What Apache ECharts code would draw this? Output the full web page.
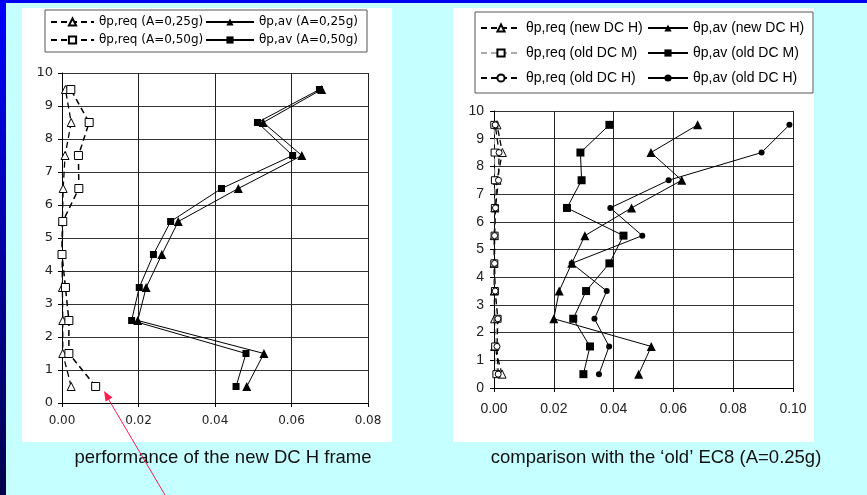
<!DOCTYPE html>
<html><head><meta charset="utf-8">
<script src="https://cdn.jsdelivr.net/npm/echarts@6/dist/echarts.min.js"></script>
<style>html,body{margin:0;padding:0;background:#C6FFFF;}#c{width:867px;height:495px;}</style>
</head><body><div id="c"></div>
<script>
// story levels (y)
const levels = [0.5,1.5,2.5,3.5,4.5,5.5,6.5,7.5,8.5,9.5];
// left chart: performance of the new DC H frame
const reqA25 = [0.0024,0.0002,0.0002,0.0001,0.0000,0.0001,0.0003,0.0008,0.0024,0.0009];
const reqA50 = [0.0088,0.0018,0.0018,0.0009,0.0000,0.0002,0.0044,0.0043,0.0071,0.0023];
const avA25  = [0.0483,0.0528,0.0198,0.0220,0.0261,0.0304,0.0461,0.0627,0.0526,0.0679];
const avA50  = [0.0455,0.0481,0.0182,0.0202,0.0239,0.0284,0.0417,0.0603,0.0511,0.0673];
// right chart: comparison with the old EC8
const reqNewH = [0.0027,0.0002,0.0002,0.0001,0.0000,0.0001,0.0003,0.0010,0.0028,0.0010];
const reqOldM = [0.0008,0.0004,0.0012,0.0003,0.0001,0.0002,0.0003,0.0003,0.0002,0.0001];
const reqOldH = [0.0014,0.0010,0.0013,0.0004,0.0002,0.0002,0.0005,0.0015,0.0017,0.0004];
const avNewH  = [0.0484,0.0526,0.0200,0.0218,0.0260,0.0304,0.0460,0.0628,0.0525,0.0681];
const avOldM  = [0.0299,0.0321,0.0265,0.0308,0.0386,0.0433,0.0244,0.0293,0.0289,0.0386];
const avOldH  = [0.0351,0.0385,0.0336,0.0377,0.0260,0.0496,0.0389,0.0584,0.0895,0.0988];
// axis ticks
const leftXTicks = {min:0, max:0.08, interval:0.02};
const rightXTicks = {min:0, max:0.10, interval:0.02};
const yTicks = {min:0, max:10, interval:1};

const pts = arr => arr.map((v,i)=>[v, levels[i]]);
const FONT = "'Liberation Sans', Arial, sans-serif";
const DV = "'DejaVu Sans', sans-serif";

function ser(name, data, idx, symbol, size, open, dashed, lineColor, lw){
  return {
    name, type:'line', xAxisIndex:idx, yAxisIndex:idx, data:pts(data),
    symbol, symbolSize:size, showAllSymbol:true, animation:false,
    itemStyle: open ? {color:'#fff', borderColor:'#000', borderWidth:1} : {color:'#000', borderColor:'#000', borderWidth:0},
    lineStyle:{color:lineColor||'#000', width:lw||1, type: dashed ? [6,4] : 'solid'},
    emphasis:{disabled:true}, z: open?3:4
  };
}

function xAxis(idx, t, fs, margin, ff){
  return {type:'value', gridIndex:idx, min:t.min, max:t.max, interval:t.interval,
    axisLine:{lineStyle:{color:'#000', width:1}},
    axisTick:{show:true, length:4, lineStyle:{color:'#000'}},
    axisLabel:{formatter:v=>v.toFixed(2), color:'#222', fontSize:fs, fontFamily:ff, margin:margin},
    splitLine:{show:true, lineStyle:{color:'#222', width:1}}};
}
function yAxis(idx, fs, ff, margin){
  return {type:'value', gridIndex:idx, min:yTicks.min, max:yTicks.max, interval:yTicks.interval,
    axisLine:{show:true, lineStyle:{color:'#000', width:1}},
    axisTick:{show:true, length:4, lineStyle:{color:'#000'}},
    axisLabel:{color:'#222', fontSize:fs, fontFamily:ff, margin:margin},
    splitLine:{show:true, lineStyle:{color:'#333', width:1}}};
}

const chart = echarts.init(document.getElementById('c'), null, {renderer:'canvas'});
chart.setOption({
  backgroundColor:'#C6FFFF',
  animation:false,
  grid:[
    {left:62, top:73, width:306, height:330},
    {left:494, top:111, width:299, height:277}
  ],
  xAxis:[xAxis(0, leftXTicks, 12, 12, DV), xAxis(1, rightXTicks, 14, 14, FONT)],
  yAxis:[yAxis(0, 13, DV, 9), yAxis(1, 14, FONT, 10)],
  legend:[
    {data:['θp,req (A=0,25g)','θp,req (A=0,50g)'], orient:'vertical', left:50, top:16, itemGap:6, padding:0,
     itemWidth:43, itemHeight:9, textStyle:{fontSize:12, fontFamily:DV, color:'#000'}, selectedMode:false},
    {data:['θp,av (A=0,25g)','θp,av (A=0,50g)'], orient:'vertical', left:205, top:16, itemGap:6, padding:0,
     itemWidth:48, itemHeight:9, textStyle:{fontSize:12, fontFamily:DV, color:'#000'}, selectedMode:false},
    {data:['θp,req (new DC H)','θp,req (old DC M)','θp,req (old DC H)'], orient:'vertical', left:480, top:21, itemGap:11, padding:0,
     itemWidth:40, itemHeight:9, textStyle:{fontSize:14, fontFamily:FONT, color:'#000'}, selectedMode:false},
    {data:['θp,av (new DC H)','θp,av (old DC M)','θp,av (old DC H)'], orient:'vertical', left:647, top:21, itemGap:11, padding:0,
     itemWidth:40, itemHeight:9, textStyle:{fontSize:14, fontFamily:FONT, color:'#000'}, selectedMode:false}
  ],
  graphic:[
    {type:'rect', z:-10, shape:{x:0,y:0,width:867,height:3}, style:{fill:'#0000F0'}},
    {type:'rect', z:-10, shape:{x:0,y:0,width:6,height:495}, style:{fill:new echarts.graphic.LinearGradient(0,0,0,1,[{offset:0,color:'#0000FF'},{offset:1,color:'#00004A'}])}},
    {type:'rect', z:-10, shape:{x:22,y:8,width:370,height:434}, style:{fill:'#fff'}},
    {type:'rect', z:-10, shape:{x:453,y:8,width:361,height:434}, style:{fill:'#fff'}},
    {type:'rect', z:-5, shape:{x:45,y:10,width:322,height:42}, style:{fill:'none', stroke:'#555', lineWidth:1}},
    {type:'rect', z:-5, shape:{x:475,y:12,width:338,height:81}, style:{fill:'none', stroke:'#555', lineWidth:1}},
    {type:'text', style:{text:'performance of the new DC H frame', x:223, y:458, align:'center', verticalAlign:'middle', fill:'#111', font:"18.5px 'Liberation Sans', Arial, sans-serif"}},
    {type:'text', style:{text:'comparison with the ‘old’ EC8 (A=0.25g)', x:656, y:458, align:'center', verticalAlign:'middle', fill:'#111', font:"18.5px 'Liberation Sans', Arial, sans-serif"}},
    {type:'line', z:50, shape:{x1:165,y1:495,x2:106,y2:395}, style:{stroke:'#FF1A50', lineWidth:1}},
    {type:'polygon', z:50, shape:{points:[[104,391],[112.5,397.6],[105.6,401.6]]}, style:{fill:'#FF1A50'}}
  ],
  series:[
    ser('θp,req (A=0,25g)', reqA25, 0, 'triangle', 8, true, true, '#000', 1.3),
    ser('θp,av (A=0,25g)', avA25, 0, 'triangle', 9, false, false, '#000', 1),
    ser('θp,req (A=0,50g)', reqA50, 0, 'rect', 8, true, true, '#000', 1.5),
    ser('θp,av (A=0,50g)', avA50, 0, 'rect', 7, false, false, '#000', 1),
    ser('θp,req (new DC H)', reqNewH, 1, 'triangle', 8, true, true, '#000', 1.3),
    ser('θp,av (new DC H)', avNewH, 1, 'triangle', 9, false, false, '#000', 1),
    ser('θp,req (old DC M)', reqOldM, 1, 'rect', 7, true, true, '#aaa', 1),
    ser('θp,av (old DC M)', avOldM, 1, 'rect', 8, false, false, '#000', 1),
    ser('θp,req (old DC H)', reqOldH, 1, 'circle', 6, true, true, '#000', 1.3),
    ser('θp,av (old DC H)', avOldH, 1, 'circle', 6, false, false, '#000', 1)
  ]
});
</script></body></html>
